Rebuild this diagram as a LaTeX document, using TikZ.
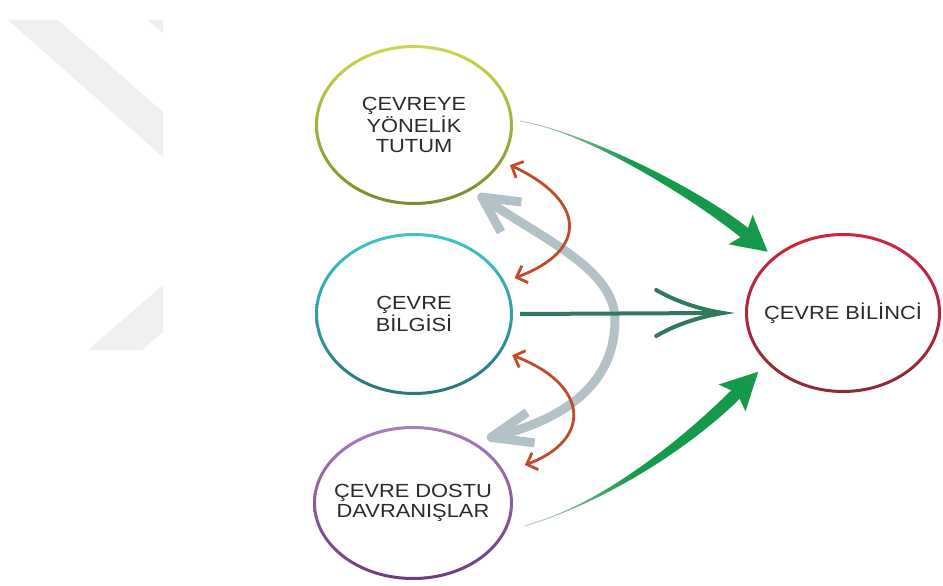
\documentclass[tikz,border=0pt]{standalone}
\usepackage{fontspec}
\setmainfont{Liberation Sans}[FakeStretch=1.15]
\usetikzlibrary{positioning, arrows.meta, calc, shapes.geometric}
\definecolor{yazi}{HTML}{2A2A2A}
\definecolor{filigran}{HTML}{EFEFEF}
\definecolor{tutumA}{HTML}{CDD64E}
\definecolor{tutumB}{HTML}{7D8A2C}
\definecolor{bilgiA}{HTML}{3FC6C8}
\definecolor{bilgiB}{HTML}{27767A}
\definecolor{davranisA}{HTML}{A77CC0}
\definecolor{davranisB}{HTML}{6A3E7E}
\definecolor{bilincA}{HTML}{D2233C}
\definecolor{bilincB}{HTML}{8A2B37}
\definecolor{yesil}{HTML}{15994A}
\definecolor{soluk}{HTML}{B9CEC1}
\definecolor{koyu}{HTML}{2E7A5B}
\definecolor{kiremit}{HTML}{C24A2D}
\definecolor{gri}{HTML}{B3C2C6}

\begin{document}
\begin{tikzpicture}[x=1pt, y=-1pt,
    halka/.style={ellipse, inner sep=0pt, align=center, text=yazi,
      font=\fontsize{19}{20}\selectfont},
    karsilikli/.style={draw=kiremit, line width=2.8pt, <->,
      >={Straight Barb[length=9pt, width=18pt]}},
    cift/.style={draw=gri, line width=9pt, line join=round}]
  \useasboundingbox (0,0) rectangle (943,586);
  \fill[white] (0,0) rectangle (943,586);
  \fill[filigran] (8,20) -- (58,20) -- (163,112) -- (163,157) -- cycle;
  \fill[filigran] (147,20) -- (163,20) -- (163,33) -- cycle;
  \fill[filigran] (88,350) -- (142,350) -- (163,332) -- (163,285) -- cycle;

  \node[halka, minimum width=198pt, minimum height=160pt] (tutum) at (414,125) {ÇEVREYE\\YÖNELİK\\TUTUM};
  \node[halka, minimum width=198pt, minimum height=162pt] (bilgi) at (414,314) {ÇEVRE\\BİLGİSİ};
  \node[halka, minimum width=200pt, minimum height=154pt] (davranis) at (413,503) {ÇEVRE DOSTU\\DAVRANIŞLAR};
  \node[halka, minimum width=196pt, minimum height=160pt] (bilinc) at (843,313) {ÇEVRE BİLİNCİ};
  \foreach \n/\rx/\ry/\ix/\iy in {tutum/99/80/96/77, bilgi/99/81/96/78,
      davranis/100/77/97/74, bilinc/98/80/95/77}
    \shade[top color=\n A, bottom color=\n B, even odd rule]
      (\n.center) ellipse [x radius=\rx, y radius=\ry]
      (\n.center) ellipse [x radius=\ix, y radius=\iy];

  \coordinate (gu) at ([shift={(8,8)}]tutum.-47);
  \coordinate (ga) at ([shift={(7,-6)}]davranis.40);
  \draw[cift, shorten <=5pt, shorten >=5pt] (gu) .. controls (545,240) and (615,270) .. (615,320)
    .. controls (615,380) and (570,418) .. (ga);
  \draw[cift] ($(gu)!40pt!27:(545,240)$) -- (gu) -- ($(gu)!40pt!-27:(545,240)$);
  \draw[cift] ($(ga)!44pt!21:(570,418)$) -- (ga) -- ($(ga)!44pt!-21:(570,418)$);
  \draw[karsilikli] ([xshift=10pt]tutum.-25) .. controls (585,200) and (590,250) .. ([shift={(10,-3)}]bilgi.20);
  \draw[karsilikli] ([shift={(12,1)}]bilgi.-25) .. controls (590,385) and (592,440) .. ([shift={(13,-2)}]davranis.20);

  \coordinate (ok) at ([xshift=-8pt]bilinc.west);
  \draw[koyu, line width=4pt] ([xshift=7pt]bilgi.east) -- ([xshift=-5pt]ok);
  \draw[koyu, line width=4pt, line cap=round] ([shift={(-67,-23)}]ok) .. controls ([shift={(-48,-12)}]ok) and ([shift={(-25,-4)}]ok) .. (ok)
    .. controls ([shift={(-25,4)}]ok) and ([shift={(-48,12)}]ok) .. ([shift={(-67,23)}]ok);

  \coordinate (y1s) at ([shift={(7,-4)}]tutum.east);
  \coordinate (y1a) at (590,133);
  \coordinate (y1b) at (702,198);
  \coordinate (y1e) at (746,234);
  \coordinate (y1t) at ($(y1e)!-28pt!(y1b)$);
  \coordinate (y1m) at ($(y1e)!7pt!(y1b)$);
  \draw[soluk, line width=0.9pt] (y1s) .. controls (y1a) and (y1b) .. (y1e);
  \shade[left color=soluk, right color=yesil, middle color=yesil]
    (y1s) .. controls (y1a) and ($(y1b)!6pt!90:(y1e)$) .. ($(y1e)!6pt!-90:(y1b)$)
    -- ($(y1e)!6pt!90:(y1b)$) .. controls ($(y1b)!6pt!-90:(y1e)$) and (y1a) .. (y1s) -- cycle;
  \fill[yesil] (y1t) -- ($(y1m)!19pt!90:(y1t)$) -- (y1e) -- ($(y1m)!19pt!-90:(y1t)$) -- cycle;

  \coordinate (y2s) at ([xshift=5pt]davranis.-12);
  \coordinate (y2a) at (600,505);
  \coordinate (y2b) at (685,445);
  \coordinate (y2e) at (737,393);
  \coordinate (y2t) at ($(y2e)!-30pt!(y2b)$);
  \coordinate (y2m) at ($(y2e)!7pt!(y2b)$);
  \draw[soluk, line width=0.9pt] (y2s) .. controls (y2a) and (y2b) .. (y2e);
  \shade[left color=soluk, right color=yesil, middle color=yesil]
    (y2s) .. controls (y2a) and ($(y2b)!6pt!90:(y2e)$) .. ($(y2e)!6pt!-90:(y2b)$)
    -- ($(y2e)!6pt!90:(y2b)$) .. controls ($(y2b)!6pt!-90:(y2e)$) and (y2a) .. (y2s) -- cycle;
  \fill[yesil] (y2t) -- ($(y2m)!19pt!90:(y2t)$) -- (y2e) -- ($(y2m)!19pt!-90:(y2t)$) -- cycle;
\end{tikzpicture}
\end{document}
